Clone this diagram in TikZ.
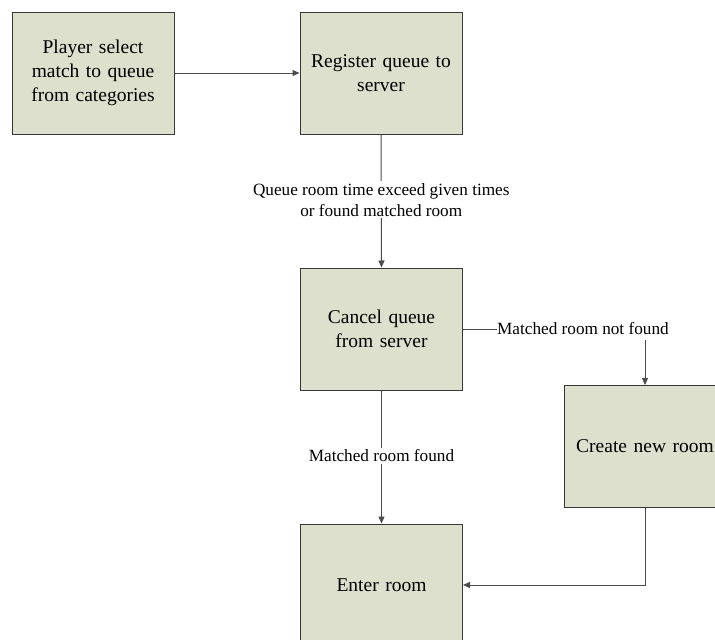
\documentclass[tikz,border=0pt]{standalone}
\usepackage{fontspec}
\setmainfont{Liberation Serif}
\usetikzlibrary{arrows.meta}
\definecolor{boxfill}{RGB}{220,224,204}
\definecolor{boxline}{RGB}{55,55,55}
\definecolor{flowline}{RGB}{75,75,75}
\begin{document}
\begin{tikzpicture}[x=1pt,y=-1pt,
  stepbox/.style={draw=boxline, line width=1pt, fill=boxfill, minimum width=162pt,
    minimum height=122pt, inner sep=0pt, align=center, text width=150pt,
    font=\fontsize{19.5}{24}\selectfont},
  flowlabel/.style={fill=white, inner sep=2pt, align=center,
    font=\fontsize{17.2}{21}\selectfont},
  flow/.style={draw=flowline, line width=1pt, -{Triangle[length=7pt,width=6pt]}},
  plain/.style={draw=flowline, line width=1pt}]
\clip (0,0) rectangle (715,640);
\fill[white] (0,0) rectangle (715,640);

\node[stepbox] (select)   at (93,73)    {Player select\\match to queue\\from categories};
\node[stepbox] (register) at (381,73)   {Register queue to\\server};
\node[stepbox] (cancel)   at (381.5,329){Cancel queue\\from server};
\node[stepbox] (create)   at (645,446.5){Create new room};
\node[stepbox] (enter)    at (381.5,585){Enter room};

\draw[flow] (select.east) -- (register.west);

\draw[flow] (register.south) -- (cancel.north)
  node[flowlabel, pos=0.49] (timeout) {Queue room time exceed given times\\or found matched room};

\node[flowlabel, anchor=west, inner sep=0pt] (notfound) at (497,329) {Matched room not found};
\draw[plain] (cancel.east) -- (notfound.west);
\draw[flow] (create.north |- 0,340) coordinate (nf) -- (create.north);

\draw[flow] (cancel.south) -- (enter.north)
  node[flowlabel, pos=0.5, yshift=1pt] (found) {Matched room found};

\draw[flow] (create.south) |- (enter.east);
\end{tikzpicture}
\end{document}
